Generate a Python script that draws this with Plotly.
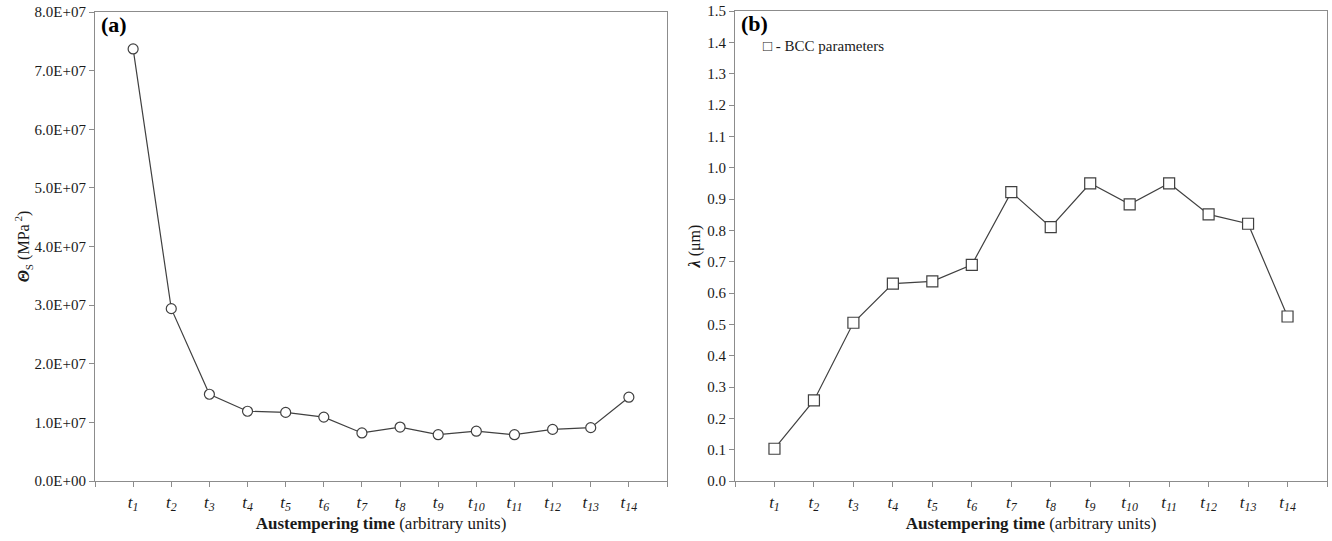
import plotly.graph_objects as go

categories = list(range(1, 15))
tick_labels = [f"<i>t<sub>{i}</sub></i>" for i in categories]
theta_s = [7.37e7, 2.94e7, 1.48e7, 1.19e7, 1.17e7, 1.09e7, 0.82e7,
           0.92e7, 0.79e7, 0.85e7, 0.79e7, 0.88e7, 0.91e7, 1.43e7]
lam = [0.103, 0.257, 0.505, 0.630, 0.637, 0.690, 0.922,
       0.810, 0.950, 0.883, 0.950, 0.851, 0.821, 0.525]
ya_ticks = [i * 1e7 for i in range(9)]
ya_text = [f"{i}.0E+0{7 if i else 0}" for i in range(9)]
yb_ticks = [round(i * 0.1, 1) for i in range(16)]

FONT = "Liberation Serif, Times New Roman, serif"
LINE = "#404040"
AX = "#8c8c8c"
TXT = "#1a1a1a"

W, H = 1332, 541
ML, MR, MT, MB = 95, 4, 11, 60
PW = W - ML - MR
PH = H - MT - MB

def xd(a, b):
    return [max(0, (a - ML) / PW), min(1, (b - ML) / PW)]

def yd(top, bottom):
    return [max(0, (H - MB - bottom) / PH), min(1, (H - MB - top) / PH)]

fig = go.Figure()
fig.add_trace(go.Scatter(x=categories, y=theta_s, mode="lines+markers",
                         line=dict(color=LINE, width=1.2),
                         marker=dict(symbol="circle", size=10, color="white",
                                     line=dict(color=LINE, width=1.2)),
                         xaxis="x", yaxis="y", showlegend=False))
fig.add_trace(go.Scatter(x=categories, y=lam, mode="lines+markers",
                         line=dict(color=LINE, width=1.2),
                         marker=dict(symbol="square", size=11, color="white",
                                     line=dict(color=LINE, width=1.2)),
                         xaxis="x2", yaxis="y2", showlegend=False))

xcommon = dict(range=[0, 15], tickvals=list(range(0, 16)),
               ticktext=[""] + tick_labels + [""],
               ticks="outside", ticklen=5, tickcolor=AX, showline=True,
               linecolor=AX, linewidth=1.2, mirror=True, showgrid=False,
               zeroline=False, ticklabelstandoff=0, automargin=False,
               tickfont=dict(family=FONT, size=17, color=TXT),
               title=dict(text="<b>Austempering time</b> (arbitrary units)",
                          font=dict(family=FONT, size=17, color=TXT),
                          standoff=4))
ycommon = dict(ticks="outside", ticklen=5, tickcolor=AX, showline=True,
               linecolor=AX, linewidth=1.2, mirror=True, showgrid=False,
               zeroline=False, automargin=False,
               tickfont=dict(family=FONT, size=15, color=TXT))

fig.update_layout(
    width=W, height=H, plot_bgcolor="white", paper_bgcolor="white",
    margin=dict(l=ML, r=MR, t=MT, b=MB),
    xaxis=dict(domain=xd(95, 667), anchor="y", **xcommon),
    yaxis=dict(domain=yd(12, 481), anchor="x",
               range=[0, 8e7], tickvals=ya_ticks, ticktext=ya_text,
               title=dict(text="<b><i>Θ</i></b><sub>S</sub> (MPa<sup> 2</sup>)",
                          font=dict(family=FONT, size=16, color=TXT),
                          standoff=0),
               **ycommon),
    xaxis2=dict(domain=xd(735, 1327), anchor="y2", **xcommon),
    yaxis2=dict(domain=yd(11, 481), anchor="x2",
                range=[0, 1.5], tickvals=yb_ticks,
                ticktext=[f"{v:.1f}" for v in yb_ticks],
                title=dict(text="<b><i>λ</i></b> (μm)",
                           font=dict(family=FONT, size=16, color=TXT),
                           standoff=2),
                **ycommon),
    annotations=[
        dict(text="<b>(a)</b>", x=0.0, y=1.0, xref="x domain", yref="y domain",
             xanchor="left", yanchor="top", xshift=4, yshift=2, showarrow=False,
             font=dict(family=FONT, size=22, color="black")),
        dict(text="<b>(b)</b>", x=0.0, y=1.0, xref="x2 domain", yref="y2 domain",
             xanchor="left", yanchor="top", xshift=4, yshift=2, showarrow=False,
             font=dict(family=FONT, size=22, color="black")),
        dict(text="□ - BCC parameters", x=0.0, y=1.0, xref="x2 domain",
             yref="y2 domain", xanchor="left", yanchor="top", xshift=26,
             yshift=-25, showarrow=False,
             font=dict(family=FONT, size=15, color=TXT)),
    ],
)

fig.write_html("out.html", config={"displayModeBar": False},
               post_script="document.body.style.margin='0';document.body.style.overflow='hidden';")
